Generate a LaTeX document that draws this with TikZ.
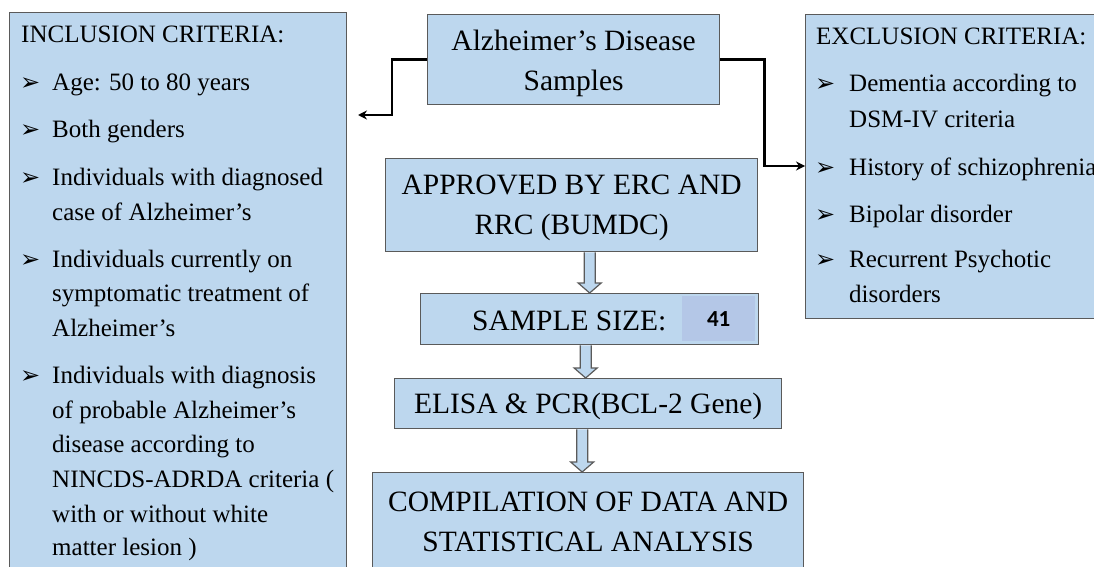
\documentclass[tikz,border=0pt]{standalone}
\usepackage{fontspec}
\setmainfont{Liberation Serif}
\newfontfamily\dejavu{DejaVu Sans}
\newfontfamily\carlito{Carlito}
\usetikzlibrary{arrows.meta,calc}
\definecolor{boxblue}{HTML}{BDD7EE}
\definecolor{numblue}{HTML}{B4C7E7}
\definecolor{bordergray}{HTML}{5A5A5A}
\tikzset{
  box/.style={draw=bordergray, fill=boxblue, line width=1.3pt, inner sep=0pt, align=center},
  bigtxt/.style={font=\fontsize{29.5}{40}\selectfont, align=center, inner sep=0pt},
  listtxt/.style={font=\fontsize{25}{34.5}\selectfont, anchor=base west, inner sep=0pt},
  bul/.style={font=\dejavu\fontsize{24}{24}\selectfont, anchor=base west, inner sep=0pt},
  conn/.style={draw=black, line width=2.4pt, -{Stealth[length=9pt,width=9pt]}},
  hollow/.style={draw=bordergray, fill=boxblue, line width=1.2pt, line join=miter,
    to path={([xshift=-5.5pt]\tikztostart) -- ([xshift=-5.5pt,yshift=10pt]\tikztotarget)
      -- ([xshift=-11.5pt,yshift=10pt]\tikztotarget) -- (\tikztotarget)
      -- ([xshift=11.5pt,yshift=10pt]\tikztotarget) -- ([xshift=5.5pt,yshift=10pt]\tikztotarget)
      -- ([xshift=5.5pt]\tikztostart)}}
}
\begin{document}
\begin{tikzpicture}[x=1pt,y=-1pt]
\useasboundingbox (0,0) rectangle (1094,567);
\fill[white] (0,0) rectangle (1094,567);
\clip (0,0) rectangle (1094,567);

% side boxes
\node[box, anchor=north west, minimum width=337, minimum height=620] (incl) at (9,12) {};
\node[box, anchor=north west, minimum width=320, minimum height=304] (excl) at (805,14) {};

% central boxes
\node[box, anchor=north west, minimum width=292, minimum height=90] (alz) at (427,14) {};
\node[bigtxt] (alztxt) at ([yshift=-3.5pt]alz.center) {Alzheimer's Disease\\Samples};
\node[box, anchor=north west, minimum width=372, minimum height=93] (appr) at (385,158) {};
\node[bigtxt] (apprtxt) at ([yshift=-2.5pt]appr.center) {APPROVED BY ERC AND\\RRC (BUMDC)};
\node[box, anchor=north west, minimum width=338, minimum height=51] (samp) at (420,293) {};
\node[bigtxt, anchor=base west] (samptxt) at (472,330) {SAMPLE SIZE:};
\node[fill=numblue, anchor=north west, minimum width=73, minimum height=45, inner sep=0pt,
  font=\carlito\bfseries\fontsize{23}{23}\selectfont] (num) at (682,296) {41};
\node[box, anchor=north west, minimum width=387, minimum height=50] (elisa) at (394,378) {};
\node[bigtxt] (elisatxt) at ([yshift=-3pt]elisa.center) {ELISA \& PCR(BCL-2 Gene)};
\node[box, anchor=north west, minimum width=431, minimum height=98] (comp) at (372,472) {};
\node[bigtxt] (comptxt) at (comp.center) {COMPILATION OF DATA AND\\STATISTICAL ANALYSIS};

% hollow arrows
\draw[hollow] (samp.north |- appr.south) to (samp.north);
\draw[hollow] ([xshift=-4pt]samp.south) to ([xshift=-4pt]samp.south |- elisa.north);
\draw[hollow] ([xshift=-6pt]elisa.south) to ([xshift=-6pt]elisa.south |- comp.north);

% connectors
\coordinate (inclTip) at (358,115);
\coordinate (exclTip) at (805,166);
\draw[conn] (alz.west) -- ++(-35,0) |- (inclTip);
\draw[conn] (alz.east) -- ++(44,0) |- (exclTip);

% inclusion text
\node[listtxt] (ih) at (21,43) {INCLUSION CRITERIA:};
\node[bul] (ib1) at (20,91) {➢};
\node[listtxt] (i1) at (52,91) {Age: 50 to 80 years};
\node[bul] (ib2) at (20,138) {➢};
\node[listtxt] (i2) at (52,138) {Both genders};
\node[bul] (ib3) at (20,185) {➢};
\node[listtxt] (i3a) at (52,185) {Individuals with diagnosed};
\node[listtxt] (i3b) at (52,220) {case of Alzheimer’s};
\node[bul] (ib4) at (20,267) {➢};
\node[listtxt] (i4a) at (52,267) {Individuals currently on};
\node[listtxt] (i4b) at (52,301.5) {symptomatic treatment of};
\node[listtxt] (i4c) at (52,336) {Alzheimer’s};
\node[bul] (ib5) at (20,383) {➢};
\node[listtxt] (i5a) at (52,383) {Individuals with diagnosis};
\node[listtxt] (i5b) at (52,418) {of probable Alzheimer’s};
\node[listtxt] (i5c) at (52,452) {disease according to};
\node[listtxt] (i5d) at (52,487) {NINCDS-ADRDA criteria (};
\node[listtxt] (i5e) at (52,522) {with or without white};
\node[listtxt] (i5f) at (52,555) {matter lesion )};

% exclusion text
\node[listtxt] (eh) at (816,45) {EXCLUSION CRITERIA:};
\node[bul] (eb1) at (815,92) {➢};
\node[listtxt] (e1a) at (849,92) {Dementia according to};
\node[listtxt] (e1b) at (849,128) {DSM-IV criteria};
\node[bul] (eb2) at (815,175) {➢};
\node[listtxt] (e2) at (849,175) {History of schizophrenia};
\node[bul] (eb3) at (815,222) {➢};
\node[listtxt] (e3) at (849,222) {Bipolar disorder};
\node[bul] (eb4) at (815,267) {➢};
\node[listtxt] (e4a) at (849,267) {Recurrent Psychotic};
\node[listtxt] (e4b) at (849,302) {disorders};
\end{tikzpicture}
\end{document}
